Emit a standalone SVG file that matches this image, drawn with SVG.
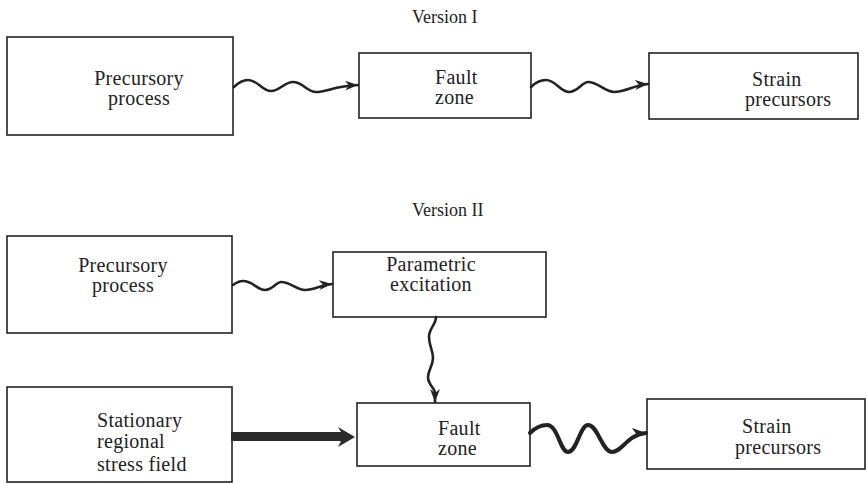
<svg xmlns="http://www.w3.org/2000/svg" width="868" height="483" viewBox="0 0 868 483">
<defs>
<style>
.box{fill:none;stroke:#222;stroke-width:1.6}
.t{font-family:"Liberation Serif","Times New Roman",serif;font-size:20px;letter-spacing:0.3px;fill:#222}
.title{font-family:"Liberation Serif","Times New Roman",serif;font-size:18px;fill:#222}
.wave{fill:none;stroke:#222;stroke-width:2.6;stroke-linecap:round}
.wave2{fill:none;stroke:#222;stroke-width:4;stroke-linecap:round}
</style>
<marker id="ah" markerUnits="userSpaceOnUse" markerWidth="16" markerHeight="12" refX="13" refY="5" orient="auto">
<path d="M0,0 L13,5 L0,10 L4,5 Z" fill="#222"/>
</marker>
<marker id="ah2" markerUnits="userSpaceOnUse" markerWidth="18" markerHeight="14" refX="14" refY="6" orient="auto">
<path d="M0,0 L14,6 L0,12 L4,6 Z" fill="#222"/>
</marker>
</defs>
<rect width="868" height="483" fill="#fff"/>

<text class="title" x="412" y="23">Version I</text>
<text class="title" x="412" y="216">Version II</text>

<g id="v1-precursory">
<rect class="box" x="7" y="37" width="226" height="98"/>
<text class="t" x="139" y="85" text-anchor="middle">Precursory</text>
<text class="t" x="139" y="105" text-anchor="middle">process</text>
</g>
<g id="v1-fault">
<rect class="box" x="359" y="53" width="172" height="65"/>
<text class="t" x="435" y="84">Fault</text>
<text class="t" x="435" y="104">zone</text>
</g>
<g id="v1-strain">
<rect class="box" x="649" y="53" width="209" height="66"/>
<text class="t" x="752" y="86">Strain</text>
<text class="t" x="745" y="106">precursors</text>
</g>

<g id="v2-precursory">
<rect class="box" x="7" y="236" width="225" height="97"/>
<text class="t" x="123" y="272" text-anchor="middle">Precursory</text>
<text class="t" x="123" y="292" text-anchor="middle">process</text>
</g>
<g id="v2-parametric">
<rect class="box" x="333" y="252" width="213" height="65"/>
<text class="t" x="431" y="271" text-anchor="middle">Parametric</text>
<text class="t" x="431" y="291" text-anchor="middle">excitation</text>
</g>
<g id="v2-stationary">
<rect class="box" x="7" y="387" width="225" height="95"/>
<text class="t" x="97" y="427">Stationary</text>
<text class="t" x="97" y="448">regional</text>
<text class="t" x="97" y="471">stress field</text>
</g>
<g id="v2-fault">
<rect class="box" x="357" y="403" width="173" height="63"/>
<text class="t" x="438" y="435">Fault</text>
<text class="t" x="438" y="455">zone</text>
</g>
<g id="v2-strain">
<rect class="box" x="647" y="399" width="218" height="70"/>
<text class="t" x="742" y="433">Strain</text>
<text class="t" x="735" y="454">precursors</text>
</g>

<g id="connectors">
<path class="wave" marker-end="url(#ah)" d="M234,87 C239,82 243,80 248,80 C258,80 262,91 271,91 C280,91 284,82 293,82 C303,82 307,92 316,92 C326,92 335,86 358,85"/>
<path class="wave" marker-end="url(#ah)" d="M531,87 C536,82 541,80 546,80 C556,80 560,92 569,92 C578,92 582,82 588,82 C598,82 605,92 614,92 C626,92 634,85 648,84"/>
<path class="wave" marker-end="url(#ah)" d="M233,285 C237,282 240,281 243,281 C253,281 257,290 265,290 C273,290 276,282 281,282 C291,282 296,290 305,290 C315,290 320,285 332,284"/>
<path class="wave" marker-end="url(#ah)" d="M436,317 C436,325 429,328 429,337 C429,346 433,350 433,358 C433,366 428,370 428,377 C428,385 435,388 435,393 L435,402"/>
<path d="M231,432 L341,432 L338,427 L355,437 L338,447 L341,441 L231,441 Z" fill="#2b2b2b"/>
<path class="wave2" marker-end="url(#ah2)" d="M530,433 C535,428 540,425 547,425 C558,425 560,452 568,452 C577,452 580,425 588,425 C598,425 602,452 612,452 C622,452 628,434 646,433"/>
</g>
</svg>
